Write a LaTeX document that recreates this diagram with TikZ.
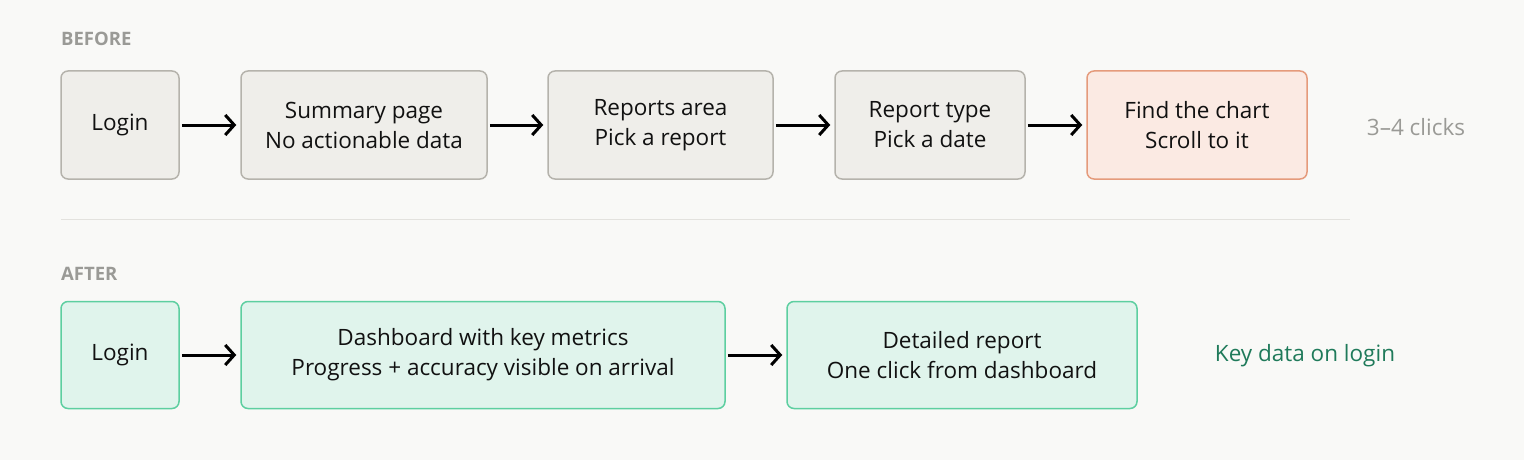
\documentclass[tikz,border=0pt]{standalone}
\usepackage{fontspec}
\setmainfont{Open Sans}
\usetikzlibrary{arrows.meta}
\definecolor{bg}{HTML}{F9F9F7}
\definecolor{gfill}{HTML}{EFEEEA}
\definecolor{gline}{HTML}{B5B3AC}
\definecolor{ofill}{HTML}{FBEAE3}
\definecolor{oline}{HTML}{E59B7C}
\definecolor{nfill}{HTML}{E0F4EC}
\definecolor{nline}{HTML}{5DCFA0}
\definecolor{lbl}{HTML}{9A9A96}
\definecolor{dgreen}{HTML}{1F7A5A}
\definecolor{txt}{HTML}{111111}
\begin{document}
\begin{tikzpicture}[x=1pt,y=-1pt,
 box/.style={draw=gline,fill=gfill,line width=1.5pt,rounded corners=7pt,align=center,text=txt,
   font=\fontsize{22.5}{30}\selectfont,inner sep=0pt},
 obox/.style={box,draw=oline,fill=ofill},
 nbox/.style={box,draw=nline,fill=nfill},
 arr/.style={-{Straight Barb[length=9pt,width=20pt,line width=3pt]},line width=3pt,black,shorten <=2pt,shorten >=4pt},
 head/.style={text=lbl,font=\fontsize{18.5}{20}\selectfont\bfseries,anchor=west,inner sep=0pt}]
\fill[bg] (0,0) rectangle (1524,460);
\useasboundingbox (0,0) rectangle (1524,460);
\node[head] (hb) at (61,39) {BEFORE};
\node[head] (ha) at (61,274) {AFTER};
\node[box,minimum width=118,minimum height=108] (b1) at (120,125) {Login};
\node[box,minimum width=246,minimum height=108] (b2) at (364,125) {Summary page\\No actionable data};
\node[box,minimum width=225,minimum height=108] (b3) at (660.5,125) {Reports area\\Pick a report};
\node[box,minimum width=190,minimum height=108] (b4) at (930,125) {Report type\\Pick a date};
\node[obox,minimum width=220,minimum height=108] (b5) at (1197,125) {Find the chart\\Scroll to it};
\node[text=lbl,font=\fontsize{22.5}{24}\selectfont] (c1) at (1416,127) {3–4 clicks};
\draw[arr] (b1) -- (b2);
\draw[arr] (b2) -- (b3);
\draw[arr] (b3) -- (b4);
\draw[arr] (b4) -- (b5);
\coordinate (d1) at (61,219); \coordinate (d2) at (1350,219);
\draw[line width=1pt,draw=gfill!80!gline] (d1) -- (d2);
\node[nbox,minimum width=118,minimum height=107] (a1) at (120,355) {Login};
\node[nbox,minimum width=484,minimum height=107] (a2) at (483,355) {Dashboard with key metrics\\Progress + accuracy visible on arrival};
\node[nbox,minimum width=350,minimum height=107] (a3) at (962,355) {Detailed report\\One click from dashboard};
\node[text=dgreen,font=\fontsize{22.5}{24}\selectfont] (c2) at (1305,356) {Key data on login};
\draw[arr] (a1) -- (a2);
\draw[arr] (a2) -- (a3);
\end{tikzpicture}
\end{document}
